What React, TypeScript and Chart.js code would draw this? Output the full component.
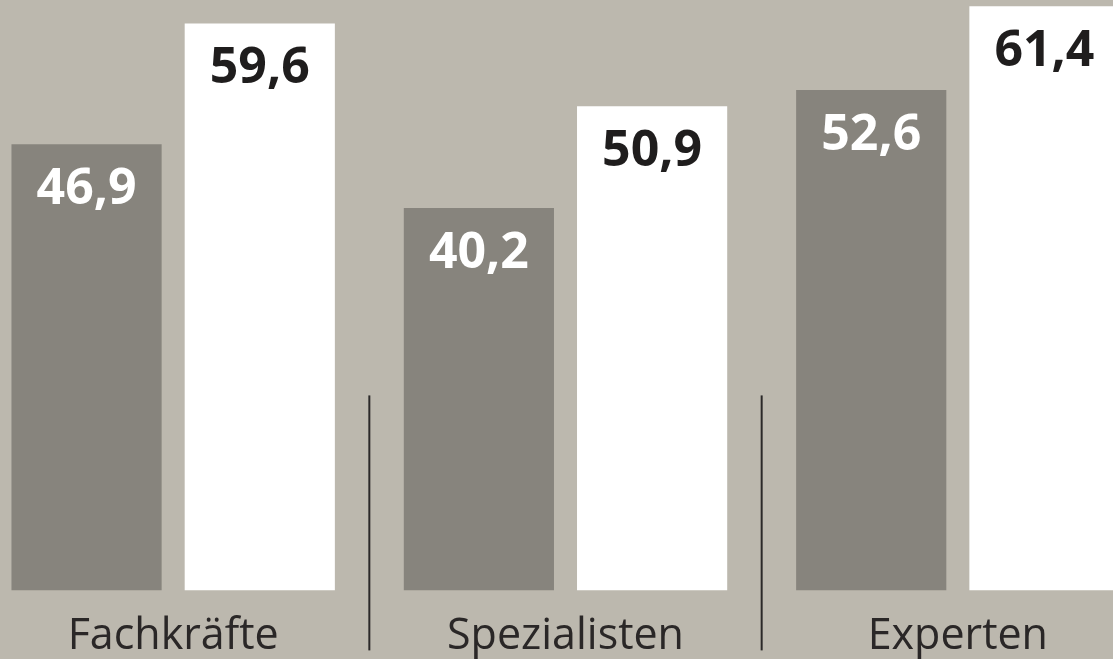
import React, { useEffect, useRef } from "react";
import { Chart, registerables } from "chart.js";

Chart.register(...registerables);

const categories: string[] = ["Fachkräfte", "Spezialisten", "Experten"];
const seriesDark: number[] = [46.9, 40.2, 52.6];
const seriesLight: number[] = [59.6, 50.9, 61.4];
const yMax = 62.07;
const separatorFrom = 20.5;

const BG = "#bcb8ae";
const DARK_BAR = "#87847d";
const TEXT_DARK = "#1f1d1d";
const LINE = "#2b2929";

const fmt = (v: number) => v.toFixed(1).replace(".", ",");

const valueLabels = {
  id: "valueLabels",
  afterDatasetsDraw(chart: any) {
    const ctx = chart.ctx;
    ctx.save();
    ctx.font = "bold 50px 'Open Sans'";
    ctx.textAlign = "center";
    ctx.textBaseline = "alphabetic";
    chart.data.datasets.forEach((ds: any, di: number) => {
      const meta = chart.getDatasetMeta(di);
      meta.data.forEach((bar: any, i: number) => {
        ctx.fillStyle = di === 0 ? "#ffffff" : TEXT_DARK;
        ctx.fillText(fmt(ds.data[i]), bar.x, bar.y + 60);
      });
    });
    ctx.restore();
  },
};

const separators = {
  id: "separators",
  afterDraw(chart: any) {
    const ctx = chart.ctx;
    const xs = chart.scales.x;
    const ys = chart.scales.y;
    ctx.save();
    ctx.strokeStyle = LINE;
    ctx.lineWidth = 2;
    for (let i = 0; i < categories.length - 1; i++) {
      const x = (xs.getPixelForValue(i) + xs.getPixelForValue(i + 1)) / 2;
      ctx.beginPath();
      ctx.moveTo(x, ys.getPixelForValue(separatorFrom));
      ctx.lineTo(x, chart.chartArea.bottom + 60);
      ctx.stroke();
    }
    ctx.restore();
  },
};

export default function App() {
  const ref = useRef<HTMLCanvasElement>(null);
  useEffect(() => {
    if (!ref.current) return;
    const chart = new Chart(ref.current, {
      type: "bar",
      data: {
        labels: categories,
        datasets: [
          { data: seriesDark, backgroundColor: DARK_BAR, barPercentage: 0.867, categoryPercentage: 0.883 },
          { data: seriesLight, backgroundColor: "#ffffff", barPercentage: 0.867, categoryPercentage: 0.883 },
        ],
      },
      options: {
        responsive: false,
        animation: false,
        layout: { padding: 0 },
        plugins: { legend: { display: false }, tooltip: { enabled: false } },
        scales: {
          x: {
            grid: { display: false, drawTicks: false },
            border: { display: false },
            ticks: {
              color: "#2a2727",
              font: { family: "'Open Sans'", size: 43, lineHeight: 1.2 },
              padding: 21,
              maxRotation: 0,
              autoSkip: false,
            },
          },
          y: { display: false, min: 0, max: yMax },
        },
      },
      plugins: [valueLabels, separators],
    });
    return () => chart.destroy();
  }, []);
  return (
    <div
      style={{
        position: "fixed",
        left: 0,
        top: 0,
        width: 1113,
        height: 659,
        overflow: "hidden",
        background: BG,
      }}
    >
      <canvas ref={ref} width={1177} height={684} style={{ position: "absolute", left: -23, top: 0 }} />
    </div>
  );
}
